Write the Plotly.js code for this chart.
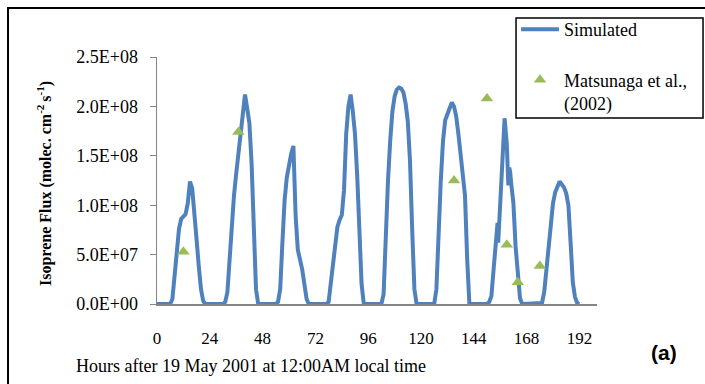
<!DOCTYPE html>
<html><head><meta charset="utf-8">
<script src="https://cdn.plot.ly/plotly-3.0.1.min.js"></script>
<style>html,body{margin:0;padding:0;background:#fff;} #chart{width:705px;height:384px;}</style>
</head><body><div id="chart"></div>
<script>
// Simulated isoprene flux, units of 1e8 molec. cm^-2 s^-1
const simHours = [
  0,1,2,3,4,5,6,7,8,9,10,11,12,13,14,15,16,17,18,19,20,21,22,23,
  24,25,26,27,28,29,30,31,32,33,34,35,36,37,38,39,40,41,42,43,44,45,46,47,
  48,49,50,51,52,53,54,55,56,57,58,59,60,61,62,63,64,65,66,67,68,69,70,71,
  72,73,74,75,76,77,78,79,80,81,82,83,84,85,86,87,88,89,90,91,92,93,94,95,
  96,97,98,99,100,101,102,103,104,105,106,107,108,109,110,111,112,113,114,115,116,117,118,119,
  120,121,122,123,124,125,126,127,128,129,130,131,132,133,134,135,136,137,138,139,140,141,142,143,
  144,145,146,147,148,149,150,151,152,153,154,154.8,155.1,156,156.5,157,158,159,159.7,160.1,160.5,161,162,163,164,165,166,167,
  168,169,170,171,172,173,174,175,176,177,178,179,180,181,182,183,184,185,186,187,188,189,190,191,192
];
const simFlux = [
  0,0,0,0,0,0,0,0.05,0.3,0.52,0.76,0.86,0.88,0.91,1.02,1.24,1.17,0.95,0.65,0.38,0.15,0.03,0,0,
  0,0,0,0,0,0,0,0.02,0.12,0.45,0.8,1.1,1.32,1.52,1.72,1.98,2.12,1.98,1.83,1.42,0.75,0.15,0,0,
  0,0,0,0,0,0,0,0.02,0.15,0.62,1.05,1.28,1.42,1.52,1.6,0.9,0.55,0.45,0.35,0.2,0.05,0,0,0,
  0,0,0,0,0,0,0.02,0.2,0.38,0.6,0.78,0.85,0.9,1.15,1.72,2.0,2.12,1.95,1.72,1.3,0.75,0.2,0,0,
  0,0,0,0,0,0,0,0.1,0.75,1.25,1.65,1.95,2.1,2.17,2.19,2.18,2.14,2.03,1.85,1.45,0.75,0.15,0,0,
  0,0,0,0,0,0,0,0.15,0.75,1.25,1.65,1.86,1.92,1.98,2.04,2.0,1.9,1.72,1.5,1.3,1.1,0.45,0,0,
  0,0,0,0,0,0,0,0.02,0.08,0.35,0.62,0.82,0.62,1.0,1.22,1.5,1.88,1.62,1.2,1.38,1.34,1.22,1.02,0.58,0.25,0.06,0,0,
  0,0,0,0,0,0,0,0.01,0.12,0.35,0.65,0.85,1.02,1.13,1.2,1.24,1.21,1.18,1.12,1.0,0.62,0.22,0.07,0.01,0
];
// Matsunaga et al. (2002) observations, units of 1e8
const obsHours = [12, 37, 135, 150, 159, 164, 174];
const obsFlux = [0.53, 1.74, 1.25, 2.08, 0.60, 0.22, 0.385];

const xTickVals = [0, 24, 48, 72, 96, 120, 144, 168, 192];
const yTickVals = [0, 0.5, 1.0, 1.5, 2.0, 2.5];
const yTickText = ['0.0E+00', '5.0E+07', '1.0E+08', '1.5E+08', '2.0E+08', '2.5E+08'];

const serif = 'Liberation Serif';

const traces = [
  {
    x: simHours, y: simFlux, type: 'scatter', mode: 'lines', name: 'Simulated',
    line: {color: '#4F81BD', width: 4}, legendgroup: 'a'
  },
  {
    x: obsHours, y: obsFlux, type: 'scatter', mode: 'markers', name: 'Matsunaga et al.,<br>(2002)',
    marker: {symbol: 'triangle-up', size: 11, color: '#9BBB59'}, legendgroup: 'b', cliponaxis: false
  }
];

const layout = {
  width: 705, height: 384,
  margin: {l: 157, r: 108, t: 57, b: 80, autoexpand: false},
  paper_bgcolor: '#ffffff', plot_bgcolor: '#ffffff',
  font: {family: serif, color: '#000', size: 17},
  showlegend: true,
  legend: {
    x: 0.816, y: 1.186, xanchor: 'left', yanchor: 'top',
    borderwidth: 0, bgcolor: 'rgba(0,0,0,0)', itemwidth: 38,
    font: {family: serif, size: 18, color: '#000'},
    tracegroupgap: 24, valign: 'top'
  },
  xaxis: {
    range: [0, 200], tickvals: xTickVals, ticks: '', showgrid: false, zeroline: false,
    showline: true, linecolor: '#868686', linewidth: 2,
    tickfont: {family: serif, size: 17, color: '#000'}, ticklabelstandoff: 18
  },
  yaxis: {
    range: [0, 2.5], tickvals: yTickVals, ticktext: yTickText, ticks: 'outside', ticklen: 6,
    tickcolor: '#868686', tickwidth: 1, showgrid: false, zeroline: false,
    showline: true, linecolor: '#868686', linewidth: 1.5,
    tickfont: {family: serif, size: 18, color: '#000'}, ticklabelstandoff: 8
  },
  annotations: [
    {
      text: '<b>Isoprene Flux (molec. cm<sup>-2 </sup>s<sup>-1</sup>)</b>', textangle: -90,
      xref: 'paper', yref: 'paper', x: -0.2545, y: 0.486, xanchor: 'center', yanchor: 'middle',
      showarrow: false, font: {family: serif, size: 16, color: '#000'}
    },
    {
      text: 'Hours after 19 May 2001 at 12:00AM local time',
      xref: 'paper', yref: 'paper', x: -0.189, y: -0.251, xanchor: 'left', yanchor: 'middle',
      showarrow: false, font: {family: serif, size: 18, color: '#000'}
    },
    {
      text: '<b>(a)</b>',
      xref: 'paper', yref: 'paper', x: 1.152, y: -0.198, xanchor: 'center', yanchor: 'middle',
      showarrow: false, font: {family: 'Liberation Sans', size: 21, color: '#000'}
    }
  ],
  shapes: [
    {type: 'rect', xref: 'paper', yref: 'paper', x0: -0.3386, x1: 1.5, y0: -1, y1: 1.198,
     line: {color: '#000', width: 2}, fillcolor: 'rgba(0,0,0,0)', layer: 'below'},
    {type: 'rect', xref: 'paper', yref: 'paper', x0: 0.816, x1: 1.241, y0: 0.753, y1: 1.158,
     line: {color: '#000', width: 1.5}, fillcolor: 'rgba(0,0,0,0)', layer: 'below'}
  ]
};

Plotly.newPlot('chart', traces, layout, {displayModeBar: false, staticPlot: true});
</script>
</body></html>
